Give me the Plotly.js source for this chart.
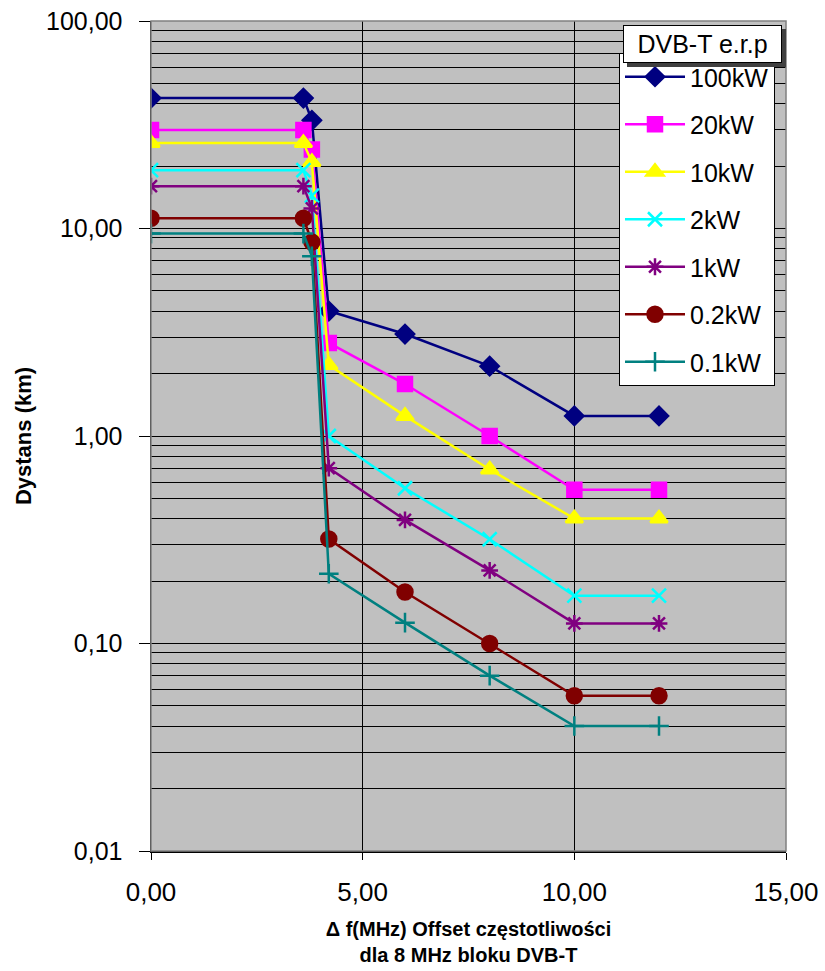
<!DOCTYPE html>
<html>
<head>
<meta charset="utf-8">
<script src="https://cdn.plot.ly/plotly-3.0.1.min.js"></script>
<style>html,body{margin:0;padding:0;background:#fff;}#chart{width:825px;height:971px;}</style>
</head>
<body>
<div id="chart"></div>
<script>
// Frequency offset (MHz)
const offsets = [0, 3.6, 3.8, 4.2, 6, 8, 10, 12];
// Distance (km) per e.r.p.
const seriesNames = ["100kW", "20kW", "10kW", "2kW", "1kW", "0.2kW", "0.1kW"];
const d100kW = [42.5, 42.5, 33.2, 4.0, 3.1, 2.17, 1.25, 1.25];
const d20kW  = [29.8, 29.8, 24.0, 2.81, 1.78, 1.0, 0.55, 0.55];
const d10kW  = [25.8, 25.8, 20.9, 2.2, 1.25, 0.69, 0.40, 0.40];
const d2kW   = [19.1, 19.1, 14.4, 1.0, 0.56, 0.318, 0.17, 0.17];
const d1kW   = [16.0, 16.0, 12.5, 0.70, 0.394, 0.225, 0.125, 0.125];
const d02kW  = [11.2, 11.2, 8.6, 0.319, 0.177, 0.10, 0.056, 0.056];
const d01kW  = [9.45, 9.45, 7.35, 0.217, 0.126, 0.07, 0.040, 0.040];
const yTickVals = [0.01, 0.1, 1, 10, 100];
const yTickText = ["0,01", "0,10", "1,00", "10,00", "100,00"];
const xTickVals = [0, 5, 10, 15];
const xTickText = ["0,00", "5,00", "10,00", "15,00"];
const legendTitle = "DVB-T e.r.p";

const allData = [d100kW, d20kW, d10kW, d2kW, d1kW, d02kW, d01kW];
const colors = ["#000080", "#FF00FF", "#FFFF00", "#00FFFF", "#800080", "#800000", "#008080"];
const symbols = ["diamond", "square", "triangle-up", "x-thin-open", "asterisk-open", "circle", "cross-thin-open"];
const sizes = [14, 14, 15, 14, 14, 15, 14];

const traces = allData.map((ys, i) => ({
  x: offsets, y: ys, name: seriesNames[i], type: "scatter", mode: "lines+markers",
  legendgroup: "g" + i,
  line: {color: colors[i], width: 2.5},
  marker: {symbol: symbols[i], size: sizes[i], color: colors[i], line: {color: colors[i], width: 2.5}}
}));

const font = "Liberation Sans, Arial, sans-serif";
const W = 825, H = 971, mL = 151, mR = 39, mT = 21, mB = 120;
const plotW = W - mL - mR, plotH = H - mT - mB;
const px2x = p => (p - mL) / plotW;
const px2y = p => (H - mB - p) / plotH;

const layout = {
  width: W, height: H,
  margin: {l: mL, r: mR, t: mT, b: mB},
  paper_bgcolor: "#ffffff",
  plot_bgcolor: "#C0C0C0",
  showlegend: true,
  font: {family: font, color: "#000", size: 20},
  xaxis: {
    range: [0, 15], tickvals: xTickVals, ticktext: xTickText,
    showgrid: true, gridcolor: "#000", gridwidth: 1,
    zeroline: false, showline: true, linecolor: "#000", linewidth: 1.5,
    ticks: "outside", ticklen: 7, tickcolor: "#000",
    ticklabelstandoff: 10,
    tickfont: {size: 26, family: font},
    title: {text: "<b>Δ f(MHz) Offset częstotliwości<br>dla 8 MHz bloku DVB-T</b>",
            font: {size: 20, family: font}, standoff: 16}
  },
  yaxis: {
    type: "log", range: [-2, 2], tickvals: yTickVals, ticktext: yTickText,
    showgrid: true, gridcolor: "#000", gridwidth: 1,
    minor: {dtick: "D1", showgrid: true, gridcolor: "#000", gridwidth: 1, ticks: "outside", ticklen: 0},
    zeroline: false, showline: true, linecolor: "#000", linewidth: 1.5,
    ticks: "outside", ticklen: 11, tickcolor: "#000",
    ticklabelstandoff: 11,
    tickfont: {size: 25, family: font},
    title: {text: "<b>Dystans (km)</b>", font: {size: 22, family: font}, standoff: 8}
  },
  legend: {
    x: px2x(619), y: px2y(53), xanchor: "left", yanchor: "top",
    bgcolor: "#ffffff", bordercolor: "#000", borderwidth: 1,
    font: {size: 25, family: font},
    itemwidth: 60, tracegroupgap: 12,
    entrywidth: 100, entrywidthmode: "pixels",
    traceorder: "grouped"
  },
  shapes: [
    {type: "rect", xref: "paper", yref: "paper", x0: 0, x1: 1, y0: 0, y1: 1,
     line: {color: "#808080", width: 1.5}, fillcolor: "rgba(0,0,0,0)", layer: "above"}
  ],
  annotations: [
    {xref: "paper", yref: "paper", x: px2x(626.5), y: px2y(29),
     xanchor: "left", yanchor: "top", text: legendTitle, showarrow: false, width: 149,
     font: {size: 25, family: font, color: "#404040"}, bgcolor: "#404040", bordercolor: "#404040", borderwidth: 1, borderpad: 4},
    {xref: "paper", yref: "paper", x: px2x(622.5), y: px2y(25),
     xanchor: "left", yanchor: "top", text: legendTitle, showarrow: false, width: 149,
     font: {size: 25, family: font, color: "#000"}, bgcolor: "#ffffff", bordercolor: "#000", borderwidth: 1, borderpad: 4}
  ]
};

Plotly.newPlot("chart", traces, layout, {displayModeBar: false, staticPlot: true});
</script>
</body>
</html>
